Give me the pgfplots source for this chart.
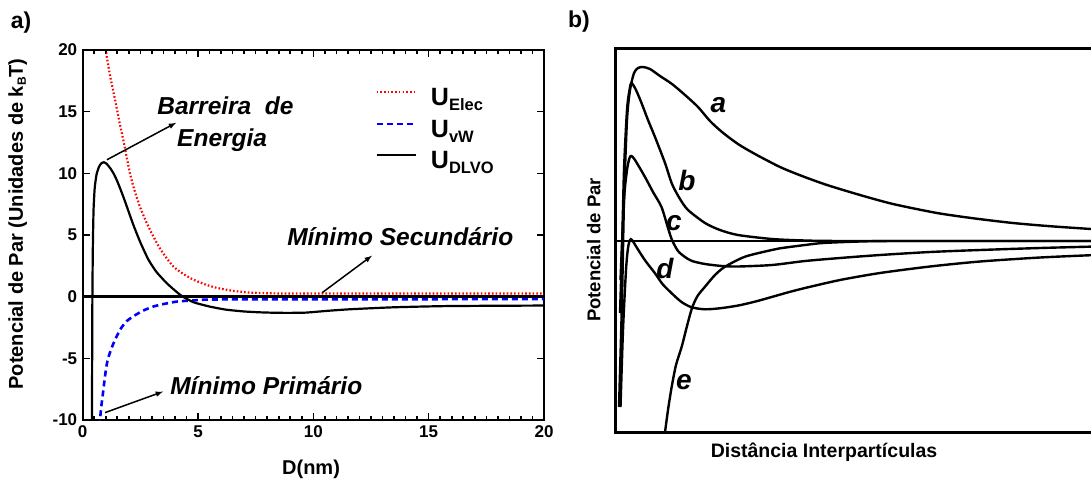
\documentclass[border=0pt]{standalone}
\usepackage{fontspec}
\setmainfont{Liberation Sans}
\usepackage{pgfplots}
\pgfplotsset{compat=1.18}
\tikzset{crv/.style={black, line width=2.4pt, smooth, tension=0.45, mark=none, solid}}
\begin{document}
\begin{tikzpicture}
\node[font=\fontsize{23}{23}\selectfont\bfseries] at (21pt,-23pt) {a)};
\node[font=\fontsize{23}{23}\selectfont\bfseries] at (579pt,-22pt) {b)};
% ---------------- panel a
\begin{axis}[
  at={(82.7pt,-420pt)}, anchor=south west,
  width=461.3pt, height=370pt, scale only axis,
  xmin=0, xmax=20, ymin=-10, ymax=20,
  xtick={0,5,10,15,20}, ytick={-10,-5,0,5,10,15,20},
  minor xtick={0.5,1,...,19.5},
  tickwidth=7pt, subtickwidth=4pt,
  every tick/.append style={line width=1.6pt, black},
  axis line style={line width=2pt},
  tick label style={font=\fontsize{17}{17}\selectfont\bfseries},
  yticklabel style={xshift=-2pt},
  xticklabel style={yshift=-2pt},
  /pgf/number format/assume math mode=true,
  xlabel={D(nm)},
  ylabel={Potencial de Par (Unidades de k\raisebox{-3pt}{\fontsize{12}{12}\selectfont B}T)},
  label style={font=\fontsize{20}{20}\selectfont\bfseries},
  xlabel style={at={(axis description cs:0.495,0)}, anchor=base, yshift=-54pt},
  ylabel style={at={(axis description cs:-0.141,0.53)}, anchor=center},
  legend style={at={(axis description cs:0.634,0.907)}, anchor=north west,
    draw=none, fill=none, inner sep=0pt, column sep=14pt, row sep=0pt,
    nodes={inner sep=0pt, text height=21pt, text depth=10.5pt}},
  legend cell align=left,
  legend image code/.code={\draw[#1] (0pt,8pt) -- (39pt,8pt);},
]
\addplot[black, line width=3pt, forget plot] coordinates {(0,0) (20,0)};
\addplot[red, line width=2.2pt, dash pattern=on 1.6pt off 2.1pt, smooth, tension=0.4] coordinates {
(1.0,20.4)(1.04,19.5)(1.2,17.8)(1.4,16)(1.6,14.1)(1.76,12.7)(2.05,10.0)(2.25,8.6)
(2.48,7.3)(2.7,6.3)(2.95,5.3)(3.35,3.9)(3.9,2.5)(4.4,1.8)(4.8,1.38)(5.3,1.0)
(5.8,0.72)(6.5,0.48)(7.25,0.33)(8.5,0.26)(10,0.25)(20,0.25)};
\addlegendentry{\fontsize{25}{25}\selectfont\bfseries U\raisebox{-5pt}{\fontsize{16.5}{16.5}\selectfont Elec}}
\addplot[blue, line width=2.6pt, dash pattern=on 6pt off 4pt, smooth, tension=0.4] coordinates {
(0.72,-10.5)(0.75,-10)(0.8,-9.0)(0.9,-7.5)(1.0,-6.0)(1.1,-5.0)(1.33,-3.8)(1.62,-2.68)
(1.9,-2.0)(2.19,-1.6)(2.6,-1.15)(3.06,-0.8)(3.5,-0.6)(4.08,-0.4)(5,-0.28)(6.5,-0.22)(20,-0.2)};
\addlegendentry{\fontsize{25}{25}\selectfont\bfseries U\raisebox{-5pt}{\fontsize{16.5}{16.5}\selectfont vW}}
\addplot[black, line width=2.2pt, smooth, tension=0.35] coordinates {
(0.40,-10.5)(0.41,-5)(0.42,0)(0.44,4)(0.47,7)(0.52,8.8)(0.6,9.9)(0.7,10.5)(0.8,10.8)
(0.92,10.9)(1.05,10.75)(1.2,10.4)(1.35,9.95)(1.5,9.35)(1.65,8.65)(1.83,7.75)(2.0,6.85)
(2.2,5.8)(2.5,4.4)(2.85,3.0)(3.2,2.0)(3.64,1.1)(4.0,0.5)(4.3,0.05)(4.8,-0.45)(5.5,-0.8)
(6.2,-1.05)(7.0,-1.2)(7.7,-1.27)(8.5,-1.31)(9.6,-1.3)(10.6,-1.15)(11.6,-1.02)(13.5,-0.86)
(15.9,-0.76)(20,-0.72)};
\addlegendentry{\fontsize{25}{25}\selectfont\bfseries U\raisebox{-5pt}{\fontsize{16.5}{16.5}\selectfont DLVO}}
% tick marks along the frame (explicit axis coordinates)
\draw[line width=1.6pt]
 (axis cs:5,-10)--(axis cs:5,-9.43) (axis cs:10,-10)--(axis cs:10,-9.43) (axis cs:15,-10)--(axis cs:15,-9.43)
 (axis cs:5,20)--(axis cs:5,19.43) (axis cs:10,20)--(axis cs:10,19.43) (axis cs:15,20)--(axis cs:15,19.43)
 (axis cs:0,-5)--(axis cs:0.3,-5) (axis cs:0,0)--(axis cs:0.3,0) (axis cs:0,5)--(axis cs:0.3,5)
 (axis cs:0,10)--(axis cs:0.3,10) (axis cs:0,15)--(axis cs:0.3,15)
 (axis cs:20,-5)--(axis cs:19.7,-5) (axis cs:20,0)--(axis cs:19.7,0) (axis cs:20,5)--(axis cs:19.7,5)
 (axis cs:20,10)--(axis cs:19.7,10) (axis cs:20,15)--(axis cs:19.7,15);
\draw[line width=1.3pt]
 (axis cs:0.5,-10)--(axis cs:0.5,-9.68) (axis cs:1,-10)--(axis cs:1,-9.68) (axis cs:1.5,-10)--(axis cs:1.5,-9.68)
 (axis cs:2,-10)--(axis cs:2,-9.68) (axis cs:2.5,-10)--(axis cs:2.5,-9.68) (axis cs:3,-10)--(axis cs:3,-9.68)
 (axis cs:3.5,-10)--(axis cs:3.5,-9.68) (axis cs:4,-10)--(axis cs:4,-9.68) (axis cs:4.5,-10)--(axis cs:4.5,-9.68)
 (axis cs:5.5,-10)--(axis cs:5.5,-9.68) (axis cs:6,-10)--(axis cs:6,-9.68) (axis cs:6.5,-10)--(axis cs:6.5,-9.68)
 (axis cs:7,-10)--(axis cs:7,-9.68) (axis cs:7.5,-10)--(axis cs:7.5,-9.68) (axis cs:8,-10)--(axis cs:8,-9.68)
 (axis cs:8.5,-10)--(axis cs:8.5,-9.68) (axis cs:9,-10)--(axis cs:9,-9.68) (axis cs:9.5,-10)--(axis cs:9.5,-9.68)
 (axis cs:10.5,-10)--(axis cs:10.5,-9.68) (axis cs:11,-10)--(axis cs:11,-9.68) (axis cs:11.5,-10)--(axis cs:11.5,-9.68)
 (axis cs:12,-10)--(axis cs:12,-9.68) (axis cs:12.5,-10)--(axis cs:12.5,-9.68) (axis cs:13,-10)--(axis cs:13,-9.68)
 (axis cs:13.5,-10)--(axis cs:13.5,-9.68) (axis cs:14,-10)--(axis cs:14,-9.68) (axis cs:14.5,-10)--(axis cs:14.5,-9.68)
 (axis cs:15.5,-10)--(axis cs:15.5,-9.68) (axis cs:16,-10)--(axis cs:16,-9.68) (axis cs:16.5,-10)--(axis cs:16.5,-9.68)
 (axis cs:17,-10)--(axis cs:17,-9.68) (axis cs:17.5,-10)--(axis cs:17.5,-9.68) (axis cs:18,-10)--(axis cs:18,-9.68)
 (axis cs:18.5,-10)--(axis cs:18.5,-9.68) (axis cs:19,-10)--(axis cs:19,-9.68) (axis cs:19.5,-10)--(axis cs:19.5,-9.68)
 (axis cs:0.5,20)--(axis cs:0.5,19.68) (axis cs:1,20)--(axis cs:1,19.68) (axis cs:1.5,20)--(axis cs:1.5,19.68)
 (axis cs:2,20)--(axis cs:2,19.68) (axis cs:2.5,20)--(axis cs:2.5,19.68) (axis cs:3,20)--(axis cs:3,19.68)
 (axis cs:3.5,20)--(axis cs:3.5,19.68) (axis cs:4,20)--(axis cs:4,19.68) (axis cs:4.5,20)--(axis cs:4.5,19.68)
 (axis cs:5.5,20)--(axis cs:5.5,19.68) (axis cs:6,20)--(axis cs:6,19.68) (axis cs:6.5,20)--(axis cs:6.5,19.68)
 (axis cs:7,20)--(axis cs:7,19.68) (axis cs:7.5,20)--(axis cs:7.5,19.68) (axis cs:8,20)--(axis cs:8,19.68)
 (axis cs:8.5,20)--(axis cs:8.5,19.68) (axis cs:9,20)--(axis cs:9,19.68) (axis cs:9.5,20)--(axis cs:9.5,19.68)
 (axis cs:10.5,20)--(axis cs:10.5,19.68) (axis cs:11,20)--(axis cs:11,19.68) (axis cs:11.5,20)--(axis cs:11.5,19.68)
 (axis cs:12,20)--(axis cs:12,19.68) (axis cs:12.5,20)--(axis cs:12.5,19.68) (axis cs:13,20)--(axis cs:13,19.68)
 (axis cs:13.5,20)--(axis cs:13.5,19.68) (axis cs:14,20)--(axis cs:14,19.68) (axis cs:14.5,20)--(axis cs:14.5,19.68)
 (axis cs:15.5,20)--(axis cs:15.5,19.68) (axis cs:16,20)--(axis cs:16,19.68) (axis cs:16.5,20)--(axis cs:16.5,19.68)
 (axis cs:17,20)--(axis cs:17,19.68) (axis cs:17.5,20)--(axis cs:17.5,19.68) (axis cs:18,20)--(axis cs:18,19.68)
 (axis cs:18.5,20)--(axis cs:18.5,19.68) (axis cs:19,20)--(axis cs:19,19.68) (axis cs:19.5,20)--(axis cs:19.5,19.68);
\draw[-latex, line width=1.5pt] (axis cs:1.05,11.1) -- (axis cs:4.05,14.1);
\draw[-latex, line width=1.5pt] (axis cs:10.38,0.32) -- (axis cs:12.54,3.32);
\draw[-latex, line width=1.5pt] (axis cs:0.97,-9.4) -- (axis cs:3.48,-7.7);
\node[anchor=base west, inner sep=0pt, font=\fontsize{24.5}{24.5}\selectfont\bfseries\itshape]
  at (axis cs:3.23,14.76) {Barreira\ \ de};
\node[anchor=base west, inner sep=0pt, font=\fontsize{24.5}{24.5}\selectfont\bfseries\itshape]
  at (axis cs:4.09,12.19) {Energia};
\node[anchor=base west, inner sep=0pt, font=\fontsize{24.5}{24.5}\selectfont\bfseries\itshape]
  at (axis cs:8.86,4.14) {Mínimo Secundário};
\node[anchor=base west, inner sep=0pt, font=\fontsize{24.5}{24.5}\selectfont\bfseries\itshape]
  at (axis cs:3.79,-7.95) {Mínimo Primário};
\end{axis}
% ---------------- panel b
\begin{axis}[
  at={(615.5pt,-432pt)}, anchor=south west,
  width=480.5pt, height=384pt, scale only axis,
  xmin=0, xmax=480.5, ymin=-191, ymax=193,
  xtick=\empty, ytick=\empty,
  axis line style={line width=3pt},
  xlabel={Distância Interpartículas},
  ylabel={Potencial de Par},
  xlabel style={font=\fontsize{19.5}{19.5}\selectfont\bfseries,
    at={(axis description cs:0.434,0)}, anchor=base, yshift=-25pt},
  ylabel style={font=\fontsize{18.5}{18.5}\selectfont\bfseries,
    at={(axis description cs:-0.045,0.474)}, anchor=center},
]
\addplot[black, line width=2.6pt, mark=none] coordinates {(0,0) (480.5,0)};
% a
\addplot[crv] coordinates {
(3.5,-166)(6.5,-59)(8.5,41)(11.5,121)(14.5,151)(18.5,168)(22.5,173)(27.5,174)(34.5,172)
(44.5,165)(56.5,157)(69.5,146)(82.5,134)(94.5,120)(106.5,109)(122.5,97)(139.5,87)
(164.5,74)(186.5,65)(211.5,56)(244.5,46)(277.5,37)(321.5,28)(359.5,22.5)(397.5,18)
(434.5,14.8)(475.5,12)(480.5,11.7)};
% b
\addplot[crv] coordinates {
(4.5,-72)(6.5,-9)(8.5,71)(11.5,131)(14,151)(16,158)(20.5,151)(26,138)(32.5,121)
(39.5,104)(49.5,78)(56.5,57)(64.5,42)(72.5,31)(89.5,18)(104.5,11)(122.5,6)(156.5,2)
(189.5,0.5)(234.5,0)(480.5,0)};
% c
\addplot[crv] coordinates {
(5,-39)(8.5,41)(11.5,71)(14,83)(16,85)(19.5,81)(29.5,64)(37.5,49)(46,34)(52.5,13)
(56.5,1)(62.5,-10)(69.5,-16)(76.5,-20)(89.5,-23)(106.5,-25)(122.5,-25.5)(156.5,-24)
(189.5,-20)(224.5,-17)(264.5,-14)(314.5,-11)(364.5,-9)(424.5,-7)(480.5,-5.5)};
% d
\addplot[crv] coordinates {
(5,-166)(7.5,-89)(10.5,-29)(12.5,-7)(14.5,1)(16.5,1)(22.8,-9)(30,-20)(39.5,-32.3)
(47,-43)(56.2,-52.3)(66,-61)(76.2,-66.3)(89.5,-68.3)(105,-67.2)(122.8,-64.5)(140,-60.5)
(156.2,-56)(172,-51.5)(189.5,-47)(224.5,-39)(264.5,-32)(314.5,-25.5)(364.5,-20.5)
(424.5,-16.5)(480.5,-14)};
% e
\addplot[crv] coordinates {
(49,-195)(52.5,-169)(56.2,-145.7)(60.5,-124)(66.2,-105.7)(71.5,-85)(76.5,-67)(82,-55)
(89.5,-45.7)(99.5,-34)(109.5,-25.7)(129.5,-15.7)(156.2,-9)(164.5,-7.3)(189.5,-4)
(207.5,-2)(244.5,-0.5)(284.5,0)(480.5,0)};
\node[font=\fontsize{28}{28}\selectfont\bfseries\itshape] at (axis cs:103,136) {a};
\node[font=\fontsize{28}{28}\selectfont\bfseries\itshape] at (axis cs:71.5,61) {b};
\node[font=\fontsize{28}{28}\selectfont\bfseries\itshape] at (axis cs:58.5,18) {c};
\node[font=\fontsize{28}{28}\selectfont\bfseries\itshape] at (axis cs:49.5,-27) {d};
\node[font=\fontsize{28}{28}\selectfont\bfseries\itshape] at (axis cs:68.5,-141) {e};
\end{axis}
\pgfresetboundingbox
\path[use as bounding box] (0pt,-479pt) rectangle (1091pt,0pt);
\end{tikzpicture}
\end{document}
